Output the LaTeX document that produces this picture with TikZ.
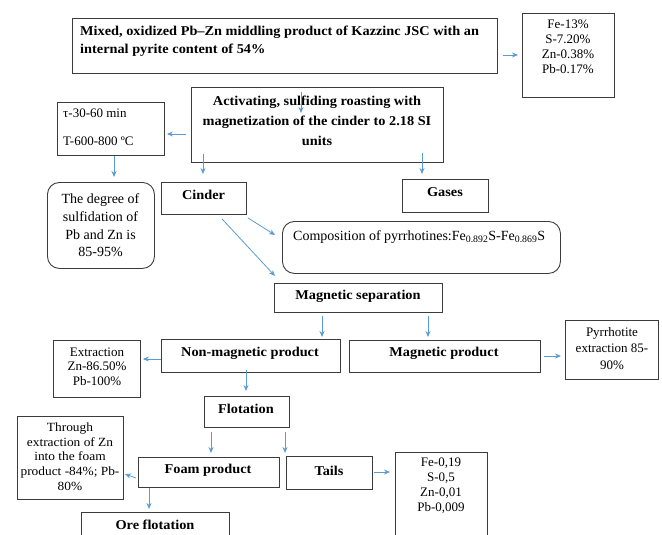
\documentclass[tikz,border=0pt]{standalone}
\usepackage{fontspec}
\setmainfont{Liberation Serif}[BoldFeatures={FakeStretch=1.06}]
\usetikzlibrary{arrows.meta,calc}
\definecolor{arrowblue}{RGB}{91,155,213}
\definecolor{boxline}{RGB}{60,60,60}
\begin{document}
\begin{tikzpicture}[x=1pt,y=-1pt,
  box/.style={draw=boxline, line width=0.9pt, inner sep=0pt, anchor=north west},
  rbox/.style={box, rounded corners=12pt},
  txt/.style={inner sep=0pt, font=\fontsize{13}{15}\selectfont, align=center},
  btxt/.style={inner sep=0pt, font=\fontsize{13.5}{18}\selectfont\bfseries, align=center},
  arr/.style={draw=arrowblue, line width=0.8pt, -{Stealth[length=6pt,width=5pt]}},
]
\useasboundingbox (0,0) rectangle (662,535);
\clip (0,0) rectangle (662,535);

% boxes
\node[box, minimum width=425pt, minimum height=55pt] (top) at (72,18) {};
\node[box, minimum width=92pt, minimum height=84pt] (comp1) at (522,13) {};
\node[box, minimum width=252pt, minimum height=75pt] (act) at (191,87) {};
\node[box, minimum width=107pt, minimum height=53pt] (tau) at (57,102) {};
\node[rbox, minimum width=107pt, minimum height=86pt] (deg) at (47,182) {};
\node[box, minimum width=85pt, minimum height=32pt] (cinder) at (161,182) {};
\node[box, minimum width=86pt, minimum height=33pt] (gases) at (402,179) {};
\node[rbox, minimum width=278pt, minimum height=52pt] (pyr) at (282,221) {};
\node[box, minimum width=168pt, minimum height=29pt] (magsep) at (274,283) {};
\node[box, minimum width=179pt, minimum height=33pt] (nonmag) at (161,339) {};
\node[box, minimum width=87pt, minimum height=57pt] (extr) at (53,340) {};
\node[box, minimum width=191pt, minimum height=32pt] (magprod) at (349,340) {};
\node[box, minimum width=93pt, minimum height=59pt] (pyext) at (565,320) {};
\node[box, minimum width=85pt, minimum height=31pt] (flot) at (204,396) {};
\node[box, minimum width=106pt, minimum height=83pt] (through) at (17,416) {};
\node[box, minimum width=141pt, minimum height=30pt] (foam) at (138,457) {};
\node[box, minimum width=86pt, minimum height=33pt] (tails) at (286,456) {};
\node[box, minimum width=148pt, minimum height=50pt] (ore) at (81,512) {};
\node[box, minimum width=92pt, minimum height=110pt] (comp2) at (395,452) {};

% texts
\node[btxt, align=left, anchor=west] (toptxt) at (80,41)
  {Mixed, oxidized Pb–Zn middling product of Kazzinc JSC with an\\internal pyrite content of 54\%};
\node[txt] (comp1txt) at (568,47) {Fe-13\%\\S-7.20\%\\Zn-0.38\%\\Pb-0.17\%};
\node[btxt, font=\fontsize{13.5}{20}\selectfont\bfseries] (acttxt) at (317,121)
  {Activating, sulfiding roasting with\\magnetization of the cinder to 2.18 SI\\units};
\node[txt, align=left, anchor=west] (tautxt) at (63,127) {τ-30-60 min\\[13pt]T-600-800 ºC};
\node[txt, font=\fontsize{14}{17.7}\selectfont] (degtxt) at (100.5,225.5)
  {The degree of\\sulfidation of\\Pb and Zn is\\85-95\%};
\node[btxt] (cindertxt) at (203.5,195) {Cinder};
\node[btxt] (gasestxt) at (445,192) {Gases};
\node[txt, font=\fontsize{14}{15}\selectfont, anchor=west] (pyrtxt) at (293,237)
  {Composition of pyrrhotines:Fe\textsubscript{0.892}S-Fe\textsubscript{0.869}S};
\node[btxt] (magseptxt) at (358,296) {Magnetic separation};
\node[btxt] (nonmagtxt) at (250,353) {Non-magnetic product};
\node[txt, font=\fontsize{13}{14.5}\selectfont] (extrtxt) at (97,366.5) {Extraction\\Zn-86.50\%\\Pb-100\%};
\node[btxt] (magprodtxt) at (444,353) {Magnetic product};
\node[txt, font=\fontsize{13}{16.5}\selectfont] (pyexttxt) at (612,348.5) {Pyrrhotite\\extraction 85-\\90\%};
\node[btxt] (flottxt) at (246,409) {Flotation};
\node[txt, font=\fontsize{12.5}{14.7}\selectfont\addfontfeatures{FakeStretch=1.07}] (throughtxt) at (70,456.5)
  {Through\\extraction of Zn\\into the foam\\product -84\%; Pb-\\80\%};
\node[btxt] (foamtxt) at (208,470) {Foam product};
\node[btxt] (tailstxt) at (329,471) {Tails};
\node[btxt] (oretxt) at (155,525) {Ore flotation};
\node[txt] (comp2txt) at (441,485.5) {Fe-0,19\\S-0,5\\Zn-0,01\\Pb-0,009};

% connectors
\draw[arr] ($(top.north east)+(5,37)$) -- ($(comp1.north west)+(-4,42)$);
\draw[arr] ($(top.south west)+(229,18)$) -- ($(act.north west)+(110,26)$);
\draw[arr] ($(act.north west)+(-5,47)$) -- ($(tau.north east)+(2,32)$);
\draw[arr] ($(tau.south west)+(57,0)$) -- ($(deg.north west)+(67,-5)$);
\draw[arr] ($(act.south west)+(12,-9)$) -- ($(cinder.north west)+(42,-8)$);
\draw[arr] ($(act.south west)+(231,-10)$) -- ($(gases.north west)+(20,-5)$);
\draw[arr] ($(cinder.south east)+(1,3)$) -- ($(pyr.north west)+(-7,14)$);
\draw[arr] ($(cinder.south west)+(61,4)$) -- ($(magsep.north west)+(1,-7)$);
\draw[arr] ($(magsep.south west)+(48,3)$) -- ($(nonmag.north west)+(161,-2)$);
\draw[arr] ($(magsep.south west)+(154,3)$) -- ($(magprod.north west)+(79,-3)$);
\draw[arr] ($(nonmag.north west)+(0,20)$) -- ($(extr.north east)+(2,19)$);
\draw[arr] ($(magprod.north east)+(3,16)$) -- ($(pyext.north west)+(-4,36)$);
\draw[arr] ($(nonmag.south west)+(85,-3)$) -- ($(flot.north west)+(42,-5)$);
\draw[arr] ($(flot.south west)+(7,4)$) -- ($(foam.north west)+(73,-4)$);
\draw[arr] ($(flot.south west)+(81,4)$) -- ($(tails.north west)+(-1,-3)$);
\draw[arr] ($(foam.north west)+(-2,21)$) -- ($(through.north east)+(1,58)$);
\draw[arr] ($(foam.south west)+(11,0)$) -- ($(ore.north west)+(68,-3)$);
\draw[arr] ($(tails.north east)+(1,16)$) -- ($(comp2.north west)+(-5,20)$);
\end{tikzpicture}
\end{document}
